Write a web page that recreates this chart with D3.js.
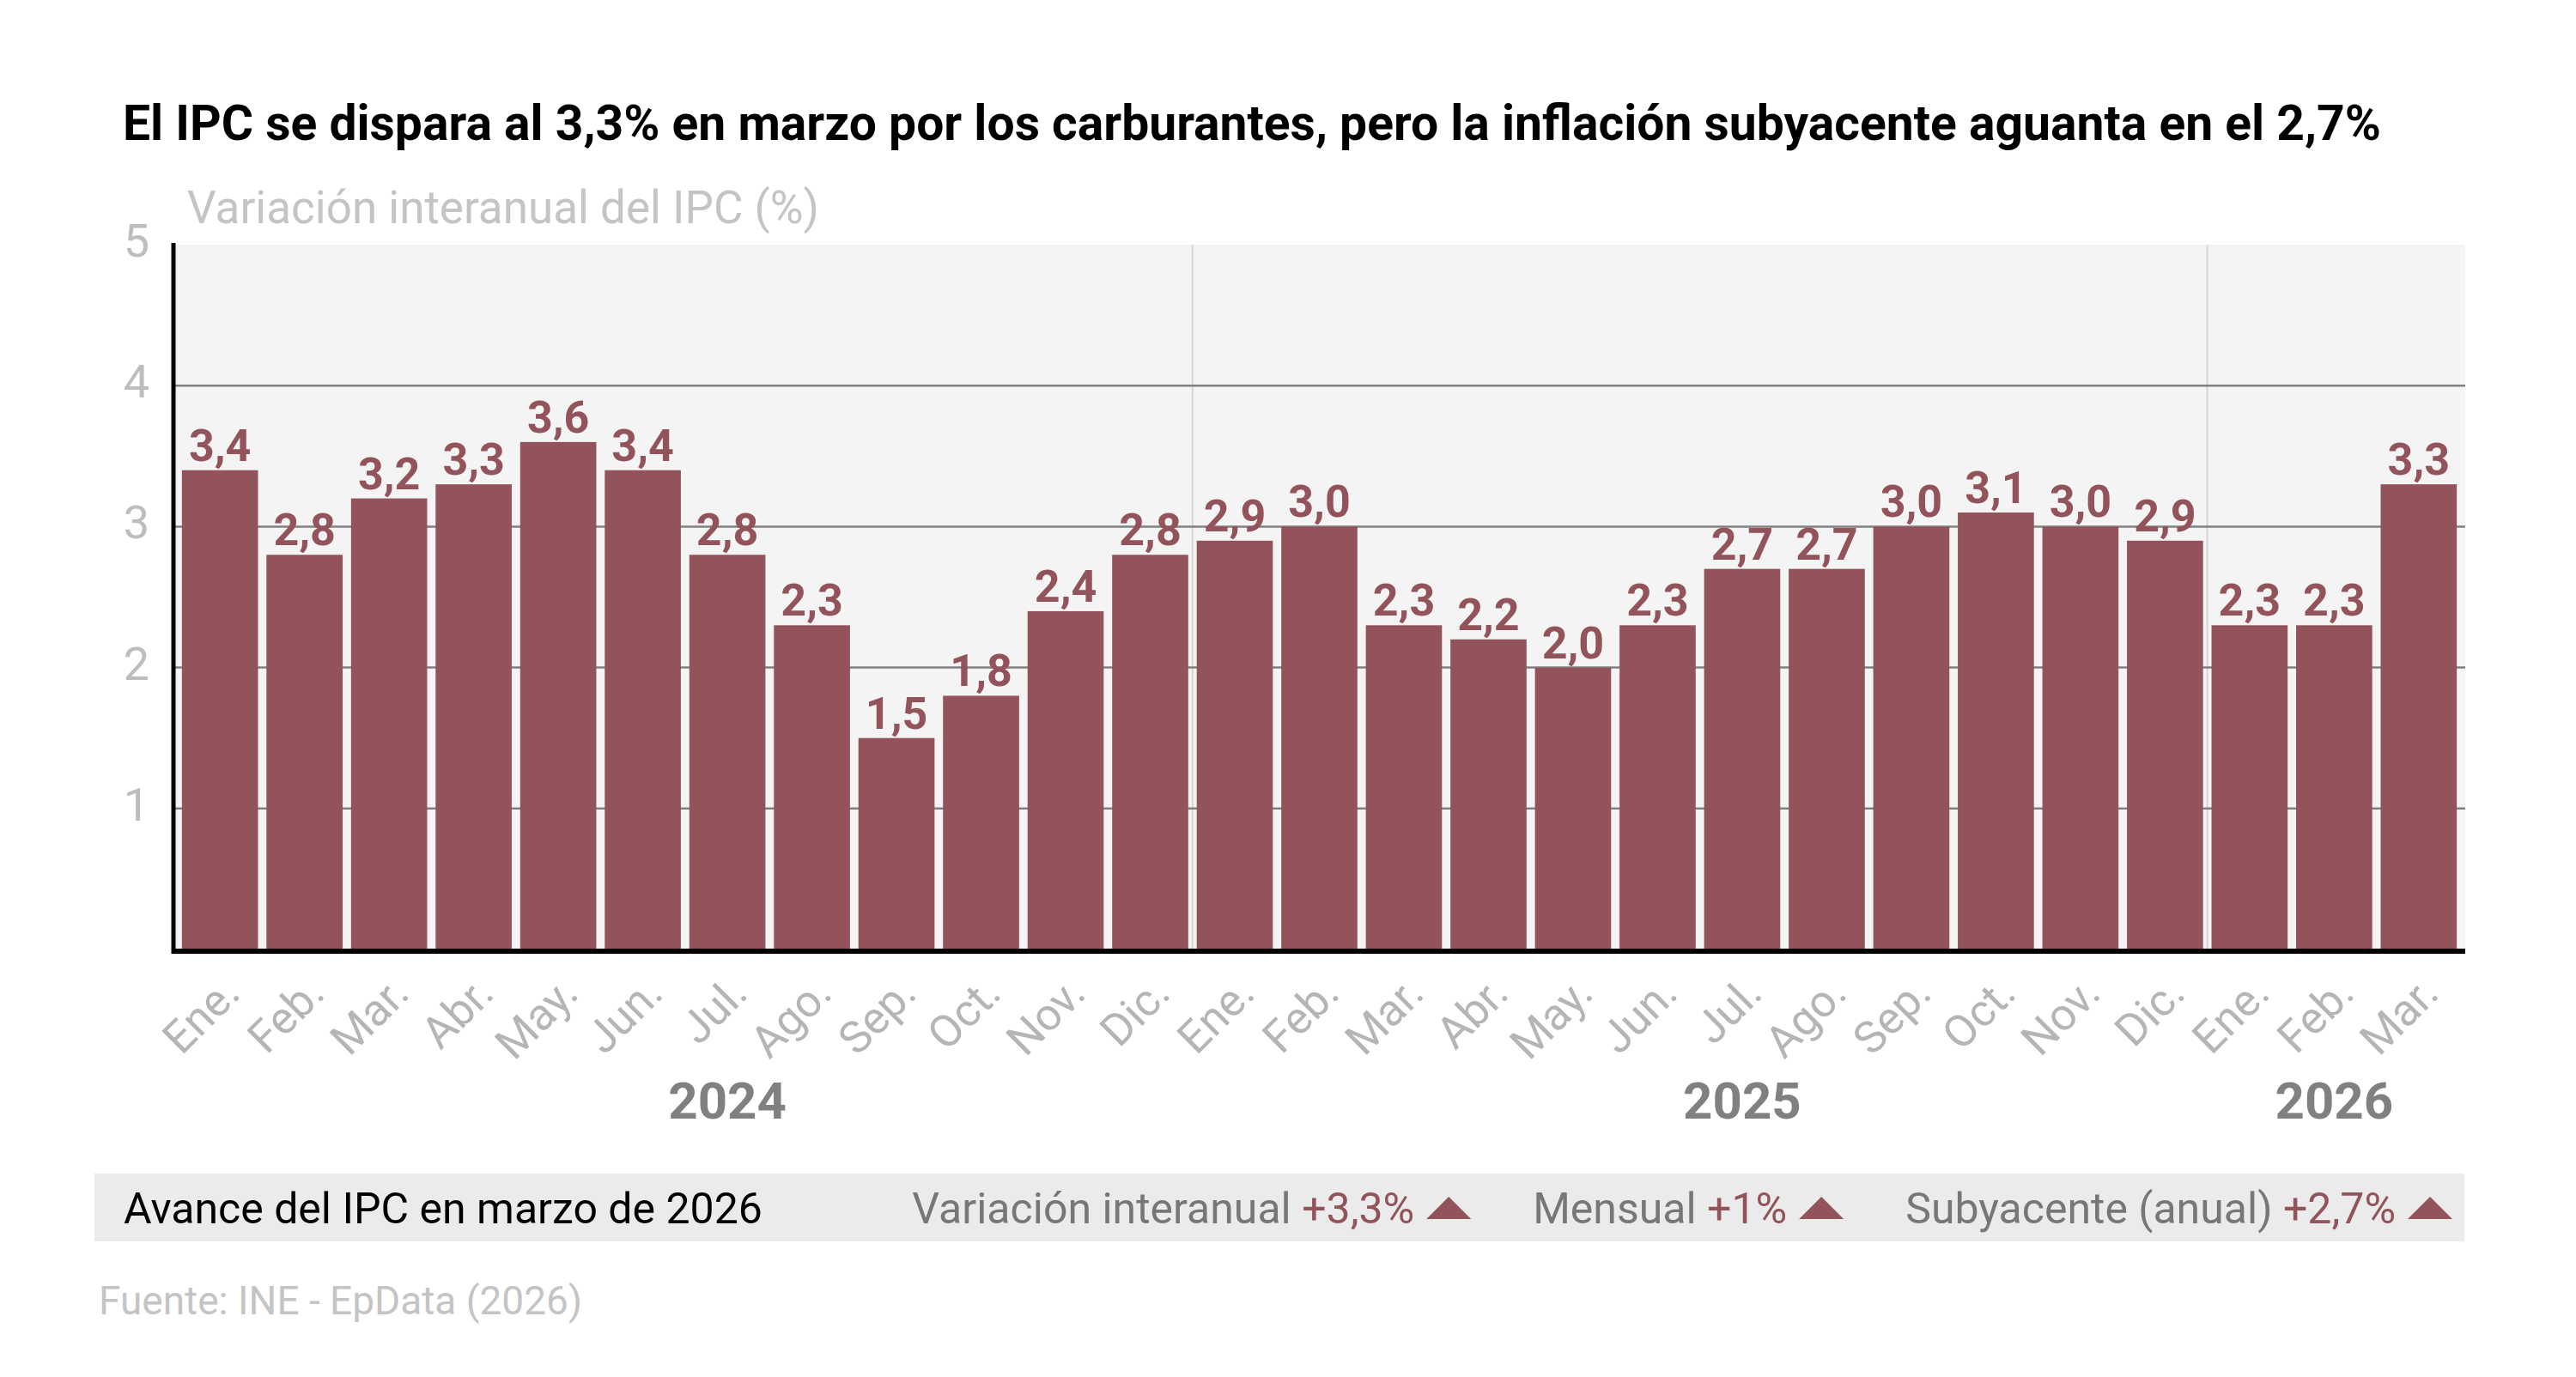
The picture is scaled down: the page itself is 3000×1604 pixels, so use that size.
<!DOCTYPE html>
<html>
<head>
<meta charset="utf-8">
<script src="https://cdn.jsdelivr.net/npm/d3@7"></script>
<style>
  body { margin: 0; background: #fff; }
  svg { font-family: Roboto, "Noto Sans", sans-serif; }
</style>
</head>
<body>
<svg id="chart" width="3000" height="1604"></svg>
<script>
// data
var months = ["Ene.", "Feb.", "Mar.", "Abr.", "May.", "Jun.", "Jul.", "Ago.", "Sep.", "Oct.", "Nov.", "Dic.",
              "Ene.", "Feb.", "Mar.", "Abr.", "May.", "Jun.", "Jul.", "Ago.", "Sep.", "Oct.", "Nov.", "Dic.",
              "Ene.", "Feb.", "Mar."];
var years = [2024, 2024, 2024, 2024, 2024, 2024, 2024, 2024, 2024, 2024, 2024, 2024,
             2025, 2025, 2025, 2025, 2025, 2025, 2025, 2025, 2025, 2025, 2025, 2025,
             2026, 2026, 2026];
var ipc = [3.4, 2.8, 3.2, 3.3, 3.6, 3.4, 2.8, 2.3, 1.5, 1.8, 2.4, 2.8,
           2.9, 3.0, 2.3, 2.2, 2.0, 2.3, 2.7, 2.7, 3.0, 3.1, 3.0, 2.9,
           2.3, 2.3, 3.3];
var yTicks = [1, 2, 3, 4, 5];
var summaryLabels = ["Variación interanual", "Mensual", "Subyacente (anual)"];
var summaryValues = ["+3,3%", "+1%", "+2,7%"];

var title = "El IPC se dispara al 3,3% en marzo por los carburantes, pero la inflación subyacente aguanta en el 2,7%";
var subtitle = "Variación interanual del IPC (%)";
var source = "Fuente: INE - EpData (2026)";

var barColor = "#93535a";
var fmt = d3.format(".1f");
function comma(v) { return fmt(v).replace(".", ","); }

var data = ipc.map(function(v, i) { return { key: i, month: months[i], year: years[i], value: v }; });

var svg = d3.select("#chart");
var margin = { left: 202, right: 129, top: 285, bottom: 498 };
var x0 = margin.left, x1 = 3000 - margin.right;
var yTop = margin.top, yBottom = 1604 - margin.bottom;

var x = d3.scaleBand()
    .domain(data.map(d => d.key))
    .range([x0, x1])
    .paddingInner(0.1)
    .paddingOuter(0.1);

var y = d3.scaleLinear()
    .domain([0, 5])
    .range([yBottom, yTop]);

// title
svg.append("text")
    .attr("x", 143).attr("y", 163)
    .attr("font-size", 57).attr("font-weight", 700)
    .attr("fill", "#000")
    .text(title);

svg.append("text")
    .attr("x", 218).attr("y", 260)
    .attr("font-size", 53)
    .attr("fill", "#c4c4c4")
    .text(subtitle);

// plot background
svg.append("rect")
    .attr("x", x0).attr("y", yTop)
    .attr("width", x1 - x0).attr("height", yBottom - yTop)
    .attr("fill", "#f4f4f4");

// year separators
var yearGroups = d3.groups(data, d => d.year);
yearGroups.slice(1).forEach(function(g) {
    var first = g[1][0];
    var sx = x(first.key) - x.step() * x.paddingInner() / 2;
    svg.append("line")
        .attr("x1", sx).attr("x2", sx)
        .attr("y1", yTop).attr("y2", yBottom)
        .attr("stroke", "#d6d6d6").attr("stroke-width", 2);
});

// gridlines
svg.append("g")
    .selectAll("line")
    .data(yTicks.filter(t => t < 5))
    .enter().append("line")
    .attr("x1", x0).attr("x2", x1)
    .attr("y1", d => y(d)).attr("y2", d => y(d))
    .attr("stroke", "#808080").attr("stroke-width", 2.5);

// bars
svg.append("g")
    .selectAll("rect")
    .data(data)
    .enter().append("rect")
    .attr("x", d => x(d.key))
    .attr("y", d => y(d.value))
    .attr("width", x.bandwidth())
    .attr("height", d => y(0) - y(d.value))
    .attr("fill", barColor);

// value labels
svg.append("g")
    .selectAll("text")
    .data(data)
    .enter().append("text")
    .attr("x", d => x(d.key) + x.bandwidth() / 2)
    .attr("y", d => y(d.value) - 11)
    .attr("text-anchor", "middle")
    .attr("font-size", 52).attr("font-weight", 700)
    .attr("fill", barColor)
    .text(d => comma(d.value));

// y axis
var yAxis = d3.axisLeft(y).tickValues(yTicks).tickFormat(d3.format("d")).tickSize(0).tickPadding(28);
var gy = svg.append("g")
    .attr("transform", `translate(${x0},0)`)
    .call(yAxis);
gy.select(".domain").remove();
gy.selectAll("text")
    .attr("font-size", 54)
    .attr("font-family", "Roboto")
    .attr("fill", "#bdbdbd")
    .attr("dy", "0.25em");

// axis lines
svg.append("line")
    .attr("x1", x0).attr("x2", x0)
    .attr("y1", yTop - 2).attr("y2", yBottom + 5)
    .attr("stroke", "#000").attr("stroke-width", 5);
svg.append("line")
    .attr("x1", x0 - 2).attr("x2", x1)
    .attr("y1", yBottom + 2).attr("y2", yBottom + 2)
    .attr("stroke", "#000").attr("stroke-width", 6);

// x axis month labels
var xAxis = d3.axisBottom(x).tickSize(0).tickPadding(0).tickFormat(k => months[k]);
var gx = svg.append("g")
    .attr("transform", `translate(0,${yBottom + 28})`)
    .call(xAxis);
gx.select(".domain").remove();
gx.selectAll("text")
    .attr("font-size", 52)
    .attr("font-family", "Roboto")
    .attr("fill", "#b5b5b5")
    .attr("text-anchor", "end")
    .attr("dy", "0.7em")
    .attr("transform", "rotate(-45)");

// year labels, under the middle month of each year
svg.append("g")
    .selectAll("text")
    .data(yearGroups)
    .enter().append("text")
    .attr("x", g => x(g[1][Math.floor(g[1].length / 2)].key) + x.bandwidth() / 2)
    .attr("y", 1303)
    .attr("text-anchor", "middle")
    .attr("font-size", 60).attr("font-weight", 700)
    .attr("fill", "#808080")
    .text(g => g[0]);

// summary banner
svg.append("rect")
    .attr("x", 110).attr("y", 1367)
    .attr("width", 2760).attr("height", 79)
    .attr("fill", "#ebebeb");

svg.append("text")
    .attr("x", 144).attr("y", 1425)
    .attr("font-size", 50)
    .attr("fill", "#000")
    .text("Avance del IPC en marzo de 2026");

var right = 2856, triW = 52, triH = 26, triGap = 14, itemGap = 72;
for (var i = summaryLabels.length - 1; i >= 0; i--) {
    svg.append("path")
        .attr("d", `M${right - triW},1420 L${right},1420 L${right - triW / 2},${1420 - triH} Z`)
        .attr("fill", barColor);
    var t = svg.append("text")
        .attr("x", right - triW - triGap).attr("y", 1425)
        .attr("text-anchor", "end")
        .attr("font-size", 50);
    t.append("tspan").attr("fill", "#777777").text(summaryLabels[i] + " ");
    t.append("tspan").attr("fill", barColor).text(summaryValues[i]);
    var w = t.node().getComputedTextLength();
    right = right - triW - triGap - w - itemGap;
}

// source
svg.append("text")
    .attr("x", 115).attr("y", 1531)
    .attr("font-size", 46)
    .attr("fill", "#c4c4c4")
    .text(source);
</script>
</body>
</html>
